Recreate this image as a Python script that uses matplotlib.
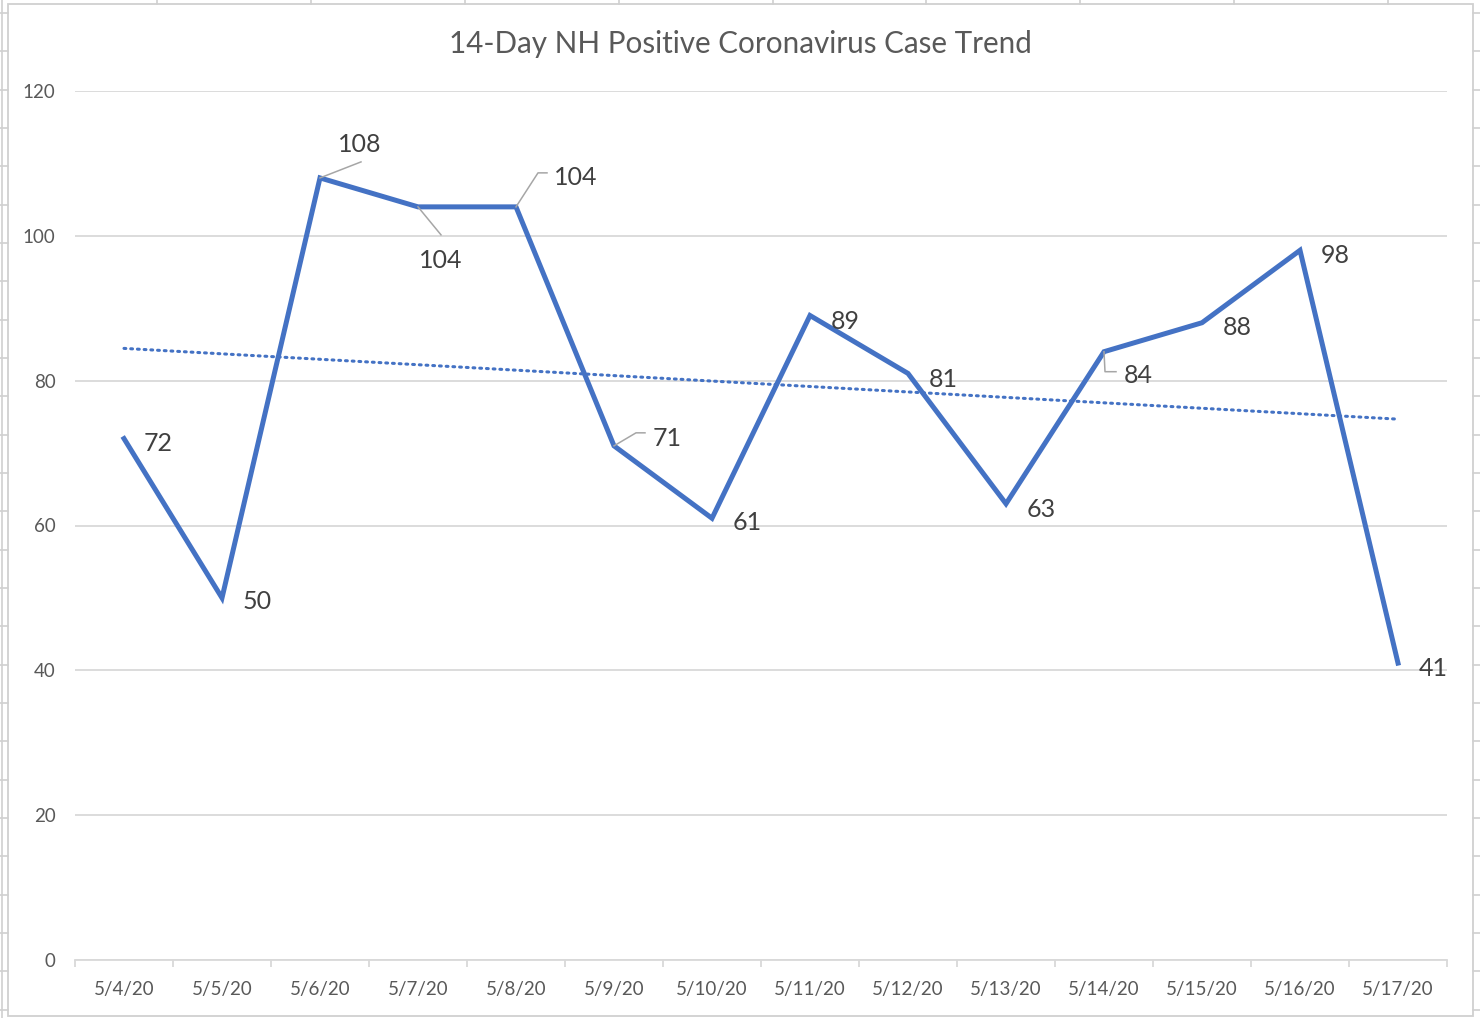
import numpy as np
import matplotlib
matplotlib.use('Agg')
import matplotlib.pyplot as plt
from matplotlib.patches import Rectangle

plt.rcParams['font.family'] = ['Lato', 'DejaVu Sans']

# data
dates = ['5/4/20', '5/5/20', '5/6/20', '5/7/20', '5/8/20', '5/9/20', '5/10/20',
         '5/11/20', '5/12/20', '5/13/20', '5/14/20', '5/15/20', '5/16/20', '5/17/20']
cases = [72, 50, 108, 104, 104, 71, 61, 89, 81, 63, 84, 88, 98, 41]
y_ticks = [0, 20, 40, 60, 80, 100, 120]

# label placement in pixels (right, up) from the point, plus leader lines
label_offsets = [(34, -5), (35, -4), (40, 33), (23, -54), (60, 29), (53, 7), (35, -4),
                 (35, -6), (35, -6), (35, -6), (34, -24), (35, -5), (35, -5), (35, -5)]
leaders = {2: [(0, 0), (41, 16)],
           3: [(0, 0), (23, -28)],
           4: [(0, 0), (22, 34), (31, 34)],
           5: [(0, 0), (22, 13), (31, 13)],
           10: [(0, 0), (1, -20), (12, -20)]}

W, H = 1480, 1018
blue = '#4472C4'
grid_c = '#d9d9d9'

fig = plt.figure(figsize=(W / 100, H / 100), dpi=100)

# spreadsheet behind the chart
bg = fig.add_axes([0, 0, 1, 1], zorder=-1)
bg.set_xlim(0, W)
bg.set_ylim(H, 0)
bg.axis('off')
for yy in np.arange(13, H, 38.33):
    bg.plot([0, 8], [yy, yy], color='#d0d0d0', lw=1.2)
    bg.plot([1473, W], [yy, yy], color='#d0d0d0', lw=1.2)
for xx in np.arange(157, W, 153.9):
    bg.plot([xx, xx], [0, 4], color='#d0d0d0', lw=1.2)
bg.plot([2, 2], [0, H], color='#d0d0d0', lw=1.2)
bg.add_patch(Rectangle((8, 4), 1465, 1012, facecolor='white', edgecolor='#d0d0d0', lw=1.3))

ax = fig.add_axes([75 / W, 1 - 960 / H, (1447 - 75) / W, (960 - 91) / H])
ax.patch.set_alpha(0)
x = np.arange(1, len(cases) + 1)

ax.plot(x, cases, color=blue, lw=3.6, solid_joinstyle='miter', zorder=3)

# linear trendline
k, b = np.polyfit(x, cases, 1)
ax.plot(x, k * x + b, color=blue, lw=2.2, ls=(0, (0.6, 1.6)), dash_capstyle='round', zorder=2)

ax.set_xlim(0.5, len(cases) + 0.5)
ax.set_ylim(0, 120)
ax.set_yticks(y_ticks)
ax.yaxis.grid(True, color=grid_c, lw=1.3)
ax.set_axisbelow(True)
ax.tick_params(axis='y', length=0, pad=14, labelsize=13.5, labelcolor='#595959')
ax.set_xticks(x)
ax.set_xticklabels(dates)
ax.set_xticks(np.arange(0.5, len(cases) + 1), minor=True)
ax.tick_params(axis='x', which='major', length=0, pad=15, labelsize=13.5, labelcolor='#595959')
ax.tick_params(axis='x', which='minor', length=5, width=1.3, color=grid_c, direction='out')
for s in ['top', 'right', 'left']:
    ax.spines[s].set_visible(False)
ax.spines['bottom'].set_color(grid_c)
ax.spines['bottom'].set_linewidth(1.3)

# data labels
for i, (xi, v) in enumerate(zip(x, cases)):
    dx, dy = label_offsets[i]
    ax.annotate(str(v), (xi, v), xytext=(dx * 0.72, dy * 0.72), textcoords='offset points',
                ha='center', va='center', fontsize=18, color='#404040', zorder=4)
    if i in leaders:
        px, py = ax.transData.transform((xi, v))
        pts = [ax.transData.inverted().transform((px + a, py + c)) for a, c in leaders[i]]
        pts = np.array(pts)
        ax.plot(pts[:, 0], pts[:, 1], color='#a6a6a6', lw=1.1, zorder=4)

fig.text(740 / W, 1 - 44 / H, '14-Day NH Positive Coronavirus Case Trend',
         ha='center', va='center', fontsize=21.3, color='#595959')

fig.savefig('out.png', dpi=100)
